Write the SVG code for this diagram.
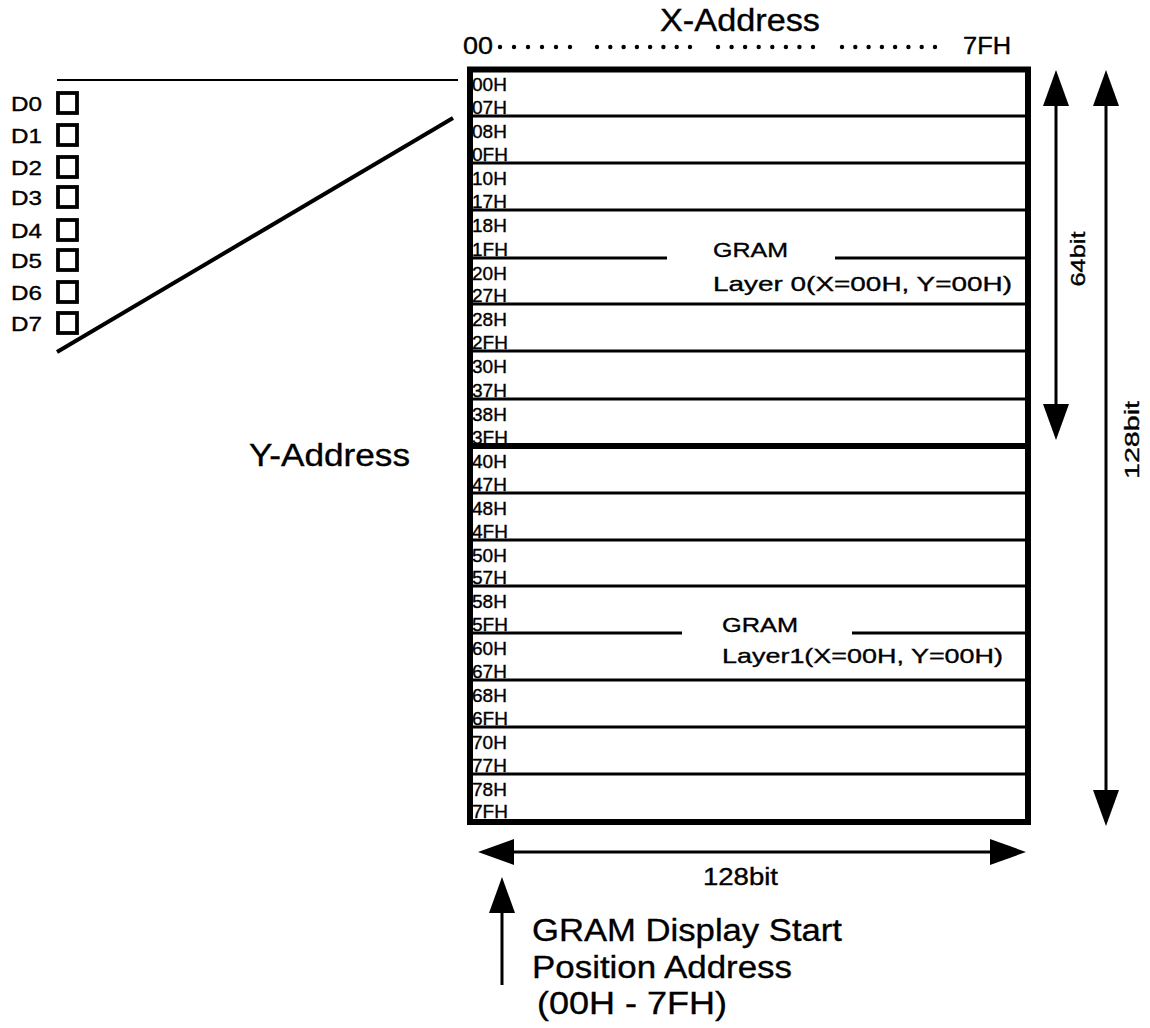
<svg xmlns="http://www.w3.org/2000/svg" width="1150" height="1028" viewBox="0 0 1150 1028">
<style>
text{font-family:"Liberation Sans",Arial,sans-serif;fill:#000;stroke:#000;stroke-width:0.35}
.lbl{font-size:19px}
.big{font-size:31px}
.mid{font-size:23px}
.gl{font-size:21px}
.d{font-size:21px}
.row{stroke:#000;stroke-width:3;fill:none}
.ln{stroke:#000;fill:none}
.sq{fill:#fff;stroke:#000;stroke-width:3.8}
.dot{fill:#000}
</style>
<defs>
<marker id="ah" markerUnits="userSpaceOnUse" markerWidth="36" markerHeight="26" viewBox="0 0 36 26" refX="30" refY="13" orient="auto-start-reverse">
<path d="M0,0 L36,13 L0,26 z" fill="#000"/>
</marker>
</defs>

<g id="x-address">
<text class="big" x="660" y="31" textLength="160" lengthAdjust="spacingAndGlyphs">X-Address</text>
<text class="mid" x="463" y="54" textLength="30" lengthAdjust="spacingAndGlyphs">00</text>
<text class="mid" x="963" y="54" textLength="48" lengthAdjust="spacingAndGlyphs">7FH</text>
<g class="dot">
<circle cx="500" cy="47" r="2.2"/><circle cx="514" cy="47" r="2.2"/><circle cx="528" cy="47" r="2.2"/><circle cx="542" cy="47" r="2.2"/><circle cx="556" cy="47" r="2.2"/><circle cx="570" cy="47" r="2.2"/>
<circle cx="597" cy="47" r="2.2"/><circle cx="610.3" cy="47" r="2.2"/><circle cx="623.6" cy="47" r="2.2"/><circle cx="636.9" cy="47" r="2.2"/><circle cx="650.1" cy="47" r="2.2"/><circle cx="663.4" cy="47" r="2.2"/><circle cx="676.7" cy="47" r="2.2"/><circle cx="690" cy="47" r="2.2"/>
<circle cx="718" cy="47" r="2.2"/><circle cx="731.6" cy="47" r="2.2"/><circle cx="745.1" cy="47" r="2.2"/><circle cx="758.7" cy="47" r="2.2"/><circle cx="772.3" cy="47" r="2.2"/><circle cx="785.9" cy="47" r="2.2"/><circle cx="799.4" cy="47" r="2.2"/><circle cx="813" cy="47" r="2.2"/>
<circle cx="842" cy="47" r="2.2"/><circle cx="855.3" cy="47" r="2.2"/><circle cx="868.6" cy="47" r="2.2"/><circle cx="881.9" cy="47" r="2.2"/><circle cx="895.1" cy="47" r="2.2"/><circle cx="908.4" cy="47" r="2.2"/><circle cx="921.7" cy="47" r="2.2"/><circle cx="935" cy="47" r="2.2"/>
</g>
</g>

<g id="data-bits">
<text class="d" x="11" y="111" textLength="31" lengthAdjust="spacingAndGlyphs">D0</text>
<text class="d" x="11" y="143" textLength="31" lengthAdjust="spacingAndGlyphs">D1</text>
<text class="d" x="11" y="175" textLength="31" lengthAdjust="spacingAndGlyphs">D2</text>
<text class="d" x="11" y="205" textLength="31" lengthAdjust="spacingAndGlyphs">D3</text>
<text class="d" x="11" y="238" textLength="31" lengthAdjust="spacingAndGlyphs">D4</text>
<text class="d" x="11" y="268" textLength="31" lengthAdjust="spacingAndGlyphs">D5</text>
<text class="d" x="11" y="300" textLength="31" lengthAdjust="spacingAndGlyphs">D6</text>
<text class="d" x="11" y="331" textLength="31" lengthAdjust="spacingAndGlyphs">D7</text>
<rect class="sq" x="58" y="93" width="19" height="20"/>
<rect class="sq" x="58" y="125" width="19" height="20"/>
<rect class="sq" x="58" y="157" width="19" height="20"/>
<rect class="sq" x="58" y="187" width="19" height="20"/>
<rect class="sq" x="58" y="220" width="19" height="20"/>
<rect class="sq" x="58" y="250" width="19" height="20"/>
<rect class="sq" x="58" y="282" width="19" height="20"/>
<rect class="sq" x="58" y="313" width="19" height="20"/>
</g>

<g id="y-address">
<text class="big" x="249" y="466" textLength="161" lengthAdjust="spacingAndGlyphs">Y-Address</text>
</g>

<g id="gram">
<rect x="470" y="69.5" width="558" height="752.5" fill="none" stroke="#000" stroke-width="6"/>
<g class="row">
<line x1="470" y1="116" x2="1028" y2="116"/>
<line x1="470" y1="163" x2="1028" y2="163"/>
<line x1="470" y1="210" x2="1028" y2="210"/>
<line x1="470" y1="258" x2="667" y2="258"/>
<line x1="835" y1="258" x2="1028" y2="258"/>
<line x1="470" y1="304" x2="1028" y2="304"/>
<line x1="470" y1="351" x2="1028" y2="351"/>
<line x1="470" y1="399" x2="1028" y2="399"/>
<line x1="470" y1="446" x2="1028" y2="446" stroke-width="6"/>
<line x1="470" y1="493" x2="1028" y2="493"/>
<line x1="470" y1="540" x2="1028" y2="540"/>
<line x1="470" y1="586" x2="1028" y2="586"/>
<line x1="470" y1="633" x2="682" y2="633"/>
<line x1="852" y1="633" x2="1028" y2="633"/>
<line x1="470" y1="680" x2="1028" y2="680"/>
<line x1="470" y1="727" x2="1028" y2="727"/>
<line x1="470" y1="774" x2="1028" y2="774"/>
</g>
<g class="lbl">
<text x="472" y="91">00H</text><text x="472" y="114">07H</text>
<text x="472" y="138">08H</text><text x="472" y="161">0FH</text>
<text x="472" y="185">10H</text><text x="472" y="208">17H</text>
<text x="472" y="232">18H</text><text x="472" y="256">1FH</text>
<text x="472" y="280">20H</text><text x="472" y="302">27H</text>
<text x="472" y="326">28H</text><text x="472" y="349">2FH</text>
<text x="472" y="373">30H</text><text x="472" y="397">37H</text>
<text x="472" y="421">38H</text><text x="472" y="444">3FH</text>
<text x="472" y="468">40H</text><text x="472" y="491">47H</text>
<text x="472" y="515">48H</text><text x="472" y="538">4FH</text>
<text x="472" y="562">50H</text><text x="472" y="584">57H</text>
<text x="472" y="608">58H</text><text x="472" y="631">5FH</text>
<text x="472" y="655">60H</text><text x="472" y="678">67H</text>
<text x="472" y="702">68H</text><text x="472" y="725">6FH</text>
<text x="472" y="749">70H</text><text x="472" y="772">77H</text>
<text x="472" y="796">78H</text><text x="472" y="818">7FH</text>
</g>
<text class="gl" x="713" y="257" textLength="75" lengthAdjust="spacingAndGlyphs">GRAM</text>
<text class="gl" x="713" y="291" textLength="299" lengthAdjust="spacingAndGlyphs">Layer 0(X=00H, Y=00H)</text>
<text class="gl" x="722" y="632" textLength="76" lengthAdjust="spacingAndGlyphs">GRAM</text>
<text class="gl" x="722" y="663" textLength="281" lengthAdjust="spacingAndGlyphs">Layer1(X=00H, Y=00H)</text>
</g>

<g id="connectors">
<line class="ln" x1="57" y1="80" x2="458" y2="80" stroke-width="2"/>
<line class="ln" x1="57" y1="352" x2="453" y2="118" stroke-width="4"/>
<line class="ln" x1="1056" y1="76" x2="1056" y2="434" stroke-width="3" marker-start="url(#ah)" marker-end="url(#ah)"/>
<line class="ln" x1="1106" y1="76" x2="1106" y2="820" stroke-width="3" marker-start="url(#ah)" marker-end="url(#ah)"/>
<line class="ln" x1="484" y1="852" x2="1020" y2="852" stroke-width="3" marker-start="url(#ah)" marker-end="url(#ah)"/>
<line class="ln" x1="502" y1="883" x2="502" y2="985" stroke-width="3" marker-start="url(#ah)"/>
</g>

<g id="dimension-labels">
<text class="gl" transform="translate(1085,259) rotate(-90)" text-anchor="middle" textLength="55" lengthAdjust="spacingAndGlyphs">64bit</text>
<text class="gl" transform="translate(1139,440) rotate(-90)" text-anchor="middle" textLength="78" lengthAdjust="spacingAndGlyphs">128bit</text>
<text class="mid" x="703" y="885" textLength="75" lengthAdjust="spacingAndGlyphs">128bit</text>
</g>

<g id="start-address">
<text class="big" font-size="29" x="532" y="941" textLength="310" lengthAdjust="spacingAndGlyphs">GRAM Display Start</text>
<text class="big" font-size="29" x="532" y="978" textLength="260" lengthAdjust="spacingAndGlyphs">Position Address</text>
<text class="big" font-size="29" x="537" y="1014" textLength="190" lengthAdjust="spacingAndGlyphs">(00H - 7FH)</text>
</g>
</svg>
